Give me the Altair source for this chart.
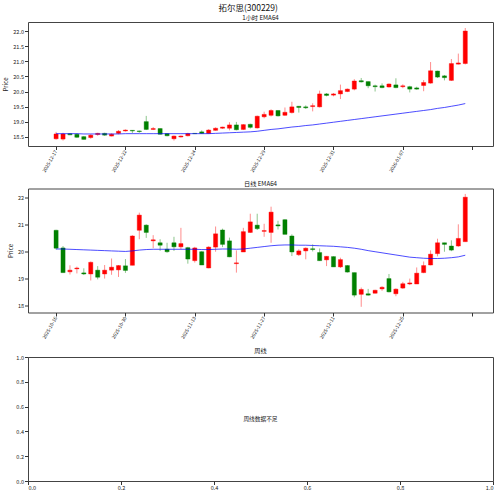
import altair as alt
import pandas as pd

# ---------------- data ----------------
suptitle = "拓尔思(300229)"

h_ticks = [0, 10, 20, 30, 40, 50, 60]
h_tick_labels = ["2025-12-17", "2025-12-22", "2025-12-24", "2025-12-29", "2025-12-31", "2026-01-07", ""]
h_open = [18.43, 18.42, 18.60, 18.58, 18.50, 18.47, 18.57, 18.61, 18.52, 18.61,
          18.69, 18.71, 18.69, 19.00, 18.74, 18.77, 18.60, 18.43, 18.49, 18.53,
          18.61, 18.66, 18.61, 18.71, 18.78, 18.78, 18.89, 18.74, 18.91, 18.79,
          19.16, 19.21, 19.37, 19.21, 19.30, 19.51, 19.49, 19.50, 19.49, 19.92,
          19.88, 19.92, 20.00, 20.08, 20.36, 20.33, 20.19, 20.19, 20.15, 20.22,
          20.16, 20.16, 20.12, 20.20, 20.28, 20.68, 20.52, 20.37, 20.91, 20.93]
h_close = [18.59, 18.59, 18.56, 18.48, 18.41, 18.55, 18.61, 18.55, 18.58, 18.68,
           18.72, 18.69, 18.67, 18.74, 18.77, 18.58, 18.53, 18.52, 18.52, 18.60,
           18.60, 18.61, 18.72, 18.78, 18.82, 18.89, 18.73, 18.90, 18.81, 19.18,
           19.24, 19.37, 19.19, 19.31, 19.49, 19.47, 19.46, 19.53, 19.92, 19.87,
           19.92, 20.03, 20.08, 20.35, 20.32, 20.19, 20.16, 20.13, 20.25, 20.13,
           20.19, 20.08, 20.08, 20.30, 20.69, 20.48, 20.46, 20.93, 20.95, 22.01]
h_high = [18.66, 18.63, 18.62, 18.61, 18.52, 18.58, 18.63, 18.63, 18.61, 18.72,
          18.74, 18.72, 18.70, 19.19, 18.82, 18.78, 18.61, 18.54, 18.54, 18.63,
          18.62, 18.71, 18.75, 18.81, 18.83, 18.98, 18.99, 18.92, 18.93, 19.20,
          19.33, 19.41, 19.38, 19.47, 19.66, 19.52, 19.54, 19.61, 20.03, 19.95,
          19.95, 20.23, 20.10, 20.41, 20.45, 20.34, 20.23, 20.27, 20.27, 20.44,
          20.24, 20.19, 20.16, 20.38, 20.98, 20.69, 20.55, 21.08, 21.26, 22.11]
h_low = [18.40, 18.37, 18.55, 18.46, 18.40, 18.43, 18.53, 18.53, 18.51, 18.58,
         18.67, 18.61, 18.63, 18.72, 18.72, 18.57, 18.51, 18.37, 18.47, 18.51,
         18.59, 18.59, 18.59, 18.70, 18.76, 18.71, 18.71, 18.72, 18.77, 18.77,
         19.11, 19.17, 19.17, 19.19, 19.27, 19.30, 19.42, 19.34, 19.47, 19.84,
         19.84, 19.75, 19.98, 20.04, 20.30, 20.11, 20.00, 20.11, 20.13, 20.11,
         20.11, 19.97, 20.06, 20.01, 20.26, 20.45, 20.37, 20.35, 20.90, 20.90]
h_ema = [18.60, 18.60, 18.60, 18.60, 18.59, 18.59, 18.59, 18.59, 18.59, 18.59,
         18.60, 18.60, 18.60, 18.60, 18.60, 18.60, 18.60, 18.60, 18.60, 18.60,
         18.60, 18.60, 18.60, 18.61, 18.62, 18.63, 18.64, 18.65, 18.66, 18.68,
         18.71, 18.74, 18.76, 18.79, 18.82, 18.84, 18.87, 18.89, 18.92, 18.95,
         18.98, 19.01, 19.04, 19.07, 19.10, 19.13, 19.16, 19.19, 19.22, 19.25,
         19.28, 19.31, 19.34, 19.37, 19.40, 19.44, 19.47, 19.51, 19.55, 19.60]

d_ticks = [0, 10, 20, 30, 40, 50, 60]
d_tick_labels = ["2025-10-16", "2025-10-30", "2025-11-13", "2025-11-27", "2025-12-11", "2025-12-25", ""]
d_open = [20.78, 20.13, 19.25, 19.36, 19.21, 19.17, 19.31, 19.17, 19.31, 19.32,
          19.47, 19.49, 20.78, 20.97, 20.39, 20.32, 20.08, 20.32, 20.17, 20.14,
          19.66, 19.99, 19.39, 20.16, 20.79, 20.39, 19.55, 19.98, 20.70, 20.97,
          20.74, 20.70, 20.98, 21.17, 20.57, 19.88, 20.02, 20.10, 19.96, 19.69,
          19.81, 19.43, 19.48, 19.22, 18.42, 18.44, 18.46, 18.62, 19.00, 18.44,
          18.65, 18.80, 18.80, 19.22, 19.50, 19.92, 20.32, 20.20, 20.20, 20.36]
d_close = [20.12, 19.22, 19.31, 19.39, 19.17, 19.60, 19.05, 19.31, 19.42, 19.48,
           19.30, 20.57, 21.34, 20.70, 20.43, 20.23, 19.99, 20.17, 20.29, 19.72,
           20.13, 19.50, 20.16, 20.65, 20.26, 19.80, 19.58, 20.73, 21.09, 20.84,
           20.77, 21.45, 20.94, 20.63, 19.98, 20.02, 20.12, 20.07, 19.66, 19.82,
           19.43, 19.70, 19.24, 18.39, 18.60, 18.39, 18.57, 18.68, 18.51, 18.61,
           18.81, 18.84, 19.20, 19.48, 19.90, 20.32, 20.26, 20.05, 20.48, 22.00]
d_high = [20.80, 20.20, 19.49, 19.44, 19.38, 19.63, 19.46, 19.50, 19.74, 19.50,
          19.72, 20.60, 21.43, 21.00, 20.60, 20.45, 20.32, 20.54, 20.87, 20.17,
          20.17, 20.01, 20.19, 20.92, 20.84, 20.51, 20.04, 20.87, 21.39, 21.39,
          21.02, 21.65, 21.13, 21.19, 20.63, 20.08, 20.15, 20.26, 20.11, 19.83,
          19.82, 19.77, 19.50, 19.22, 18.67, 18.62, 18.59, 18.72, 19.17, 18.64,
          18.88, 19.00, 19.41, 19.63, 20.04, 20.47, 20.32, 20.41, 21.00, 22.12]
d_low = [20.07, 19.21, 19.15, 19.19, 19.13, 18.93, 18.97, 19.00, 19.14, 19.06,
         19.21, 19.49, 20.45, 20.50, 20.12, 20.02, 19.95, 20.02, 20.08, 19.55,
         19.59, 19.50, 19.38, 19.99, 20.16, 19.79, 19.22, 19.98, 20.68, 20.79,
         20.54, 20.32, 20.81, 20.63, 19.83, 19.83, 19.71, 20.00, 19.65, 19.46,
         19.43, 19.39, 19.22, 18.31, 17.96, 18.37, 18.45, 18.55, 18.49, 18.35,
         18.62, 18.76, 18.80, 19.20, 19.49, 19.82, 19.99, 20.01, 20.17, 20.36]
d_ema = [20.09, 20.09, 20.08, 20.07, 20.06, 20.05, 20.04, 20.03, 20.02, 20.01,
         20.00, 20.02, 20.05, 20.07, 20.08, 20.08, 20.08, 20.08, 20.08, 20.08,
         20.08, 20.07, 20.07, 20.08, 20.09, 20.09, 20.08, 20.09, 20.12, 20.15,
         20.18, 20.21, 20.23, 20.24, 20.24, 20.23, 20.23, 20.22, 20.21, 20.20,
         20.19, 20.17, 20.15, 20.12, 20.08, 20.03, 19.99, 19.95, 19.91, 19.87,
         19.83, 19.79, 19.77, 19.75, 19.74, 19.74, 19.75, 19.77, 19.80, 19.86]

w_ticks = [0.0, 0.2, 0.4, 0.6, 0.8, 1.0]
w_message = "周线数据不足"

# ---------------- styling ----------------
FONT = "Noto Sans CJK SC"
UP = "#ff0000"
DOWN = "#008000"
W = 465
H = 124


def label_expr(ticks, labels):
    expr = "''"
    for t, l in reversed(list(zip(ticks, labels))):
        expr = f"datum.value == {t} ? '{l}' : ({expr})"
    return expr


def candle_panel(o, c, hi, lo, ema, ticks, tlabels, ydomain, yticks, yfmt, title):
    df = pd.DataFrame({"idx": list(range(len(o))), "open": o, "close": c,
                       "high": hi, "low": lo, "ema": ema})
    xscale = alt.Scale(domain=[-4.05, 63.0], nice=False, zero=False)
    yscale = alt.Scale(domain=ydomain, nice=False, zero=False)
    xaxis = alt.Axis(values=ticks, labelExpr=label_expr(ticks, tlabels), labelAngle=-60,
                     labelAlign="right", labelBaseline="middle", title=None, grid=False,
                     labelFontSize=4.8, labelPadding=1, tickSize=3.5)
    yaxis = alt.Axis(values=yticks, format=yfmt, title="Price", grid=False,
                     labelFontSize=5.5, labelPadding=1, tickSize=3.5,
                     titleFontSize=6, titleFontWeight="normal", titlePadding=4)
    colour = alt.when(alt.datum.close >= alt.datum.open).then(alt.value(UP)).otherwise(alt.value(DOWN))
    base = alt.Chart(df)
    wick = base.mark_rule(strokeWidth=1, opacity=0.45).encode(
        x=alt.X("idx:Q", scale=xscale, axis=xaxis),
        y=alt.Y("low:Q", scale=yscale, axis=yaxis),
        y2="high:Q",
        color=colour,
    )
    body = base.transform_calculate(
        x0="datum.idx - 0.3", x1="datum.idx + 0.3"
    ).mark_bar(strokeWidth=0.4).encode(
        x=alt.X("x0:Q", scale=xscale, axis=xaxis),
        x2="x1:Q",
        y=alt.Y("open:Q", scale=yscale, axis=yaxis),
        y2="close:Q",
        color=colour,
        stroke=colour,
    )
    line = base.mark_line(color="#0000ff", opacity=0.7, strokeWidth=1).encode(
        x=alt.X("idx:Q", scale=xscale, axis=xaxis),
        y=alt.Y("ema:Q", scale=yscale, axis=yaxis),
    )
    return alt.layer(wick, body, line).properties(
        width=W, height=H,
        title=alt.TitleParams(title, fontSize=6.2, fontWeight="normal", anchor="middle",
                              frame="group", offset=1),
    )


top = candle_panel(h_open, h_close, h_high, h_low, h_ema, h_ticks, h_tick_labels,
                   [18.19, 22.31], [18.5, 19.0, 19.5, 20.0, 20.5, 21.0, 21.5, 22.0], ".1f",
                   "1小时 EMA64")
mid = candle_panel(d_open, d_close, d_high, d_low, d_ema, d_ticks, d_tick_labels,
                   [17.75, 22.32], [18, 19, 20, 21, 22], "d", "日线 EMA64")

wdf = pd.DataFrame({"x": [0.5], "y": [0.5], "msg": [w_message]})
bottom = alt.Chart(wdf).mark_text(fontSize=5.7, font=FONT, color="#222").encode(
    x=alt.X("x:Q", scale=alt.Scale(domain=[0, 1], nice=False),
            axis=alt.Axis(values=w_ticks, format=".1f", title=None, grid=False, labelAngle=0,
                          labelFontSize=5.5, labelPadding=1, tickSize=3.5)),
    y=alt.Y("y:Q", scale=alt.Scale(domain=[0, 1], nice=False),
            axis=alt.Axis(values=w_ticks, format=".1f", title=None, grid=False,
                          labelFontSize=5.5, labelPadding=1, tickSize=3.5)),
    text="msg:N",
).properties(
    width=W, height=H,
    title=alt.TitleParams("周线", fontSize=6.2, fontWeight="normal", anchor="middle",
                          frame="group", offset=1),
)

chart = alt.vconcat(top, mid, bottom, spacing=6.5).resolve_scale(
    x="independent", y="independent"
).properties(
    title=alt.TitleParams(suptitle, fontSize=8.5, fontWeight="normal", anchor="middle", offset=2),
    padding={"left": 2, "top": 3, "right": 5, "bottom": 0},
).configure(
    font=FONT,
).configure_view(
    stroke="#444", strokeWidth=1,
).configure_axis(
    domain=False, tickColor="#333", labelColor="#222", titleColor="#222",
    labelFont=FONT, titleFont=FONT,
).configure_title(
    font=FONT, color="#111",
)

chart.save("out.html", embed_options={"renderer": "svg", "actions": False})
